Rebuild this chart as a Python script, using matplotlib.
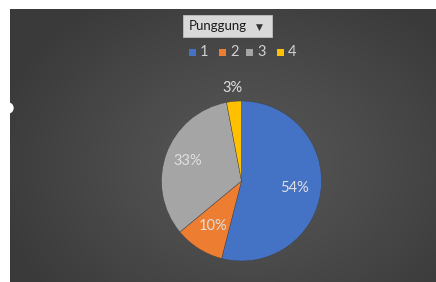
import numpy as np
import matplotlib
matplotlib.use("Agg")
import matplotlib.pyplot as plt
from matplotlib.patches import Rectangle, Circle

# Data
categories = ["1", "2", "3", "4"]
shares = [54, 10, 33, 3]
colors = ["#4472C4", "#ED7D31", "#A5A5A5", "#FFC000"]
field_name = "Punggung"

W, H = 436, 282
fig = plt.figure(figsize=(W / 100, H / 100), dpi=100)
fig.patch.set_facecolor("white")

# Background panel with a soft radial gradient (pixel coordinates)
bg = fig.add_axes([0, 0, 1, 1])
bg.set_xlim(0, W)
bg.set_ylim(H, 0)
bg.axis("off")
yy, xx = np.mgrid[0:H, 0:W]
r = np.sqrt(((xx - 240) / 260.0) ** 2 + ((yy - 160) / 200.0) ** 2)
shade = 0.34 - 0.11 * np.clip(r, 0, 1) ** 1.2
img = np.dstack([shade, shade, shade])
bg.imshow(img, extent=(10, W, H, 9), zorder=0, aspect="auto")
bg.add_patch(Circle((8, 108), 5, color="white", zorder=2))

# Field button
bg.add_patch(Rectangle((183, 15), 89, 22, facecolor="#d9d9d9", edgecolor="#bfbfbf", lw=0.6, zorder=2))
bg.text(218, 26.5, field_name, ha="center", va="center", fontsize=9.5, family="Lato", color="#1a1a1a", zorder=3)
bg.text(259, 27, "▼", ha="center", va="center", fontsize=6.5, family="DejaVu Sans", color="#333333", zorder=3)

# Legend
leg_x = [189, 219, 246, 277]
for x, c, lab in zip(leg_x, colors, categories):
    bg.add_patch(Rectangle((x, 48.5), 7, 7, facecolor=c, edgecolor="none", zorder=2))
    bg.text(x + 11, 52, lab, ha="left", va="center", fontsize=10.5, family="Lato", color="#d0d0d0", zorder=3)

# Pie
ax = fig.add_axes([(241.5 - 80) / W, (H - 261) / H, 160 / W, 160 / H])
ax.set_facecolor("none")
wedges, _ = ax.pie(shares, colors=colors, startangle=90, counterclock=False,
                   wedgeprops=dict(edgecolor="#3f3f3f", linewidth=0.3))
ax.set_xlim(-1, 1)
ax.set_ylim(-1, 1)
ax.set_aspect("equal")
ax.axis("off")

dist = [0.67, 0.67, 0.72, 1.17]
for w, v, d in zip(wedges, shares, dist):
    mid = np.deg2rad((w.theta1 + w.theta2) / 2)
    ax.text(d * np.cos(mid), d * np.sin(mid), f"{v}%", ha="center", va="center",
            fontsize=10.5, family="Lato", color="#e0e0e0")

fig.savefig("out.png", dpi=100)
